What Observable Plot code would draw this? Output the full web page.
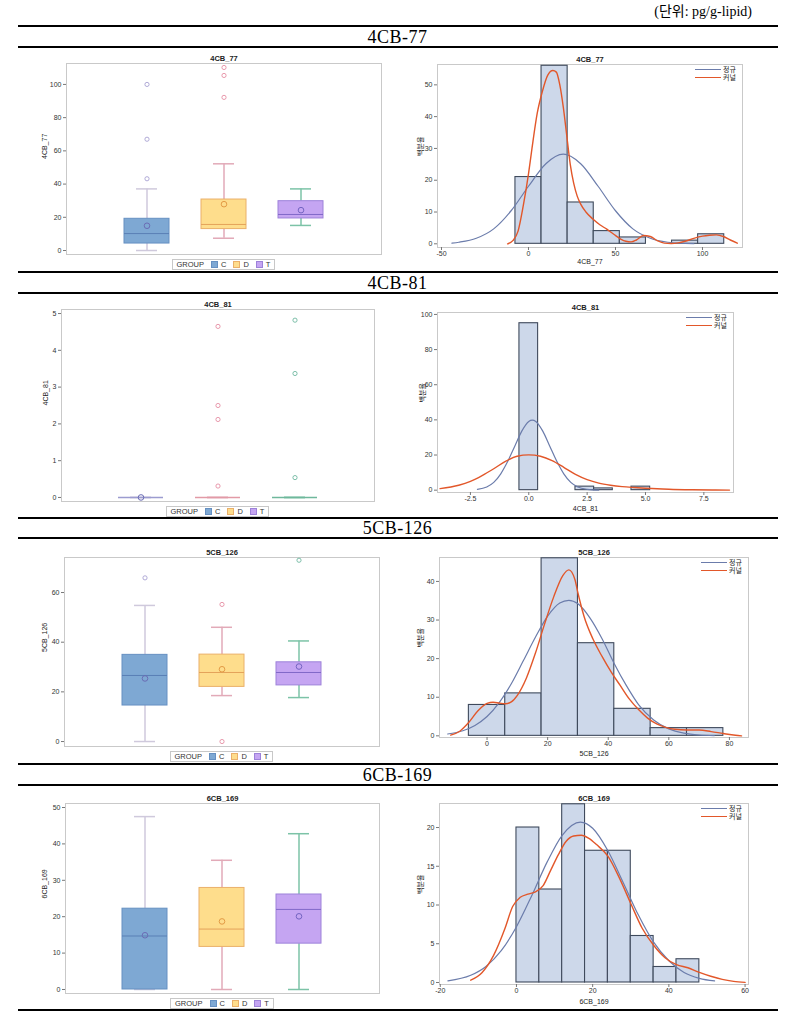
<!DOCTYPE html>
<html><head><meta charset="utf-8">
<script src="https://cdn.jsdelivr.net/npm/d3@7"></script>
<script src="https://cdn.jsdelivr.net/npm/@observablehq/plot@0.6"></script>
<style>
body{margin:0;background:#fff;}
#page{position:relative;width:795px;height:1029px;overflow:hidden;font-family:"Liberation Sans",Arial,"Noto Sans CJK KR",sans-serif;}
.hr{position:absolute;left:18px;width:760px;height:1.5px;background:#000;}
.sec{position:absolute;left:0;width:795px;text-align:center;font-family:"Liberation Serif","Noto Sans CJK KR",serif;font-size:18px;line-height:18px;letter-spacing:0.5px;color:#000;}
.abs{position:absolute;}
.lline{position:absolute;width:26px;height:0;}
.ltext{position:absolute;font-size:7px;line-height:8px;height:8px;color:#222;font-family:"Noto Sans CJK KR",sans-serif;white-space:nowrap;}
.bleg{position:absolute;border:1px solid #c8c8c8;font-size:7.5px;line-height:8px;color:#333;padding:0 4px;height:9px;display:flex;align-items:center;white-space:nowrap;}
.bleg .sw{display:inline-block;width:5px;height:5px;margin:0 3px 0 7px;}
</style></head><body><div id="page"></div>
<script>
// ---------- data ----------
const groups = ["C", "D", "T"];
// box stats: [group, whiskerLow, q1, median, q3, whiskerHigh, mean]
const box77 = [["C",0,4.2,10.2,19.1,37.1,14.9],["D",7.4,12.9,15.7,30.7,52.2,27.9],["T",15.1,19.3,21.7,29.7,37.1,24.3]];
const out77 = [["C",43.2],["C",67],["C",100],["D",92.2],["D",105.4],["D",110.2]];
const box81 = [["C",0,0,0,0,0,0],["D",0,0,0,0,0,null],["T",0,0,0,0,0,null]];
const out81 = [["D",0.31],["D",2.12],["D",2.5],["D",4.65],["T",0.54],["T",3.37],["T",4.82]];
const box126 = [["C",0,14.5,26.6,34.9,54.8,25.4],["D",18.5,22.0,27.8,35.0,46.0,29.1],["T",17.7,22.6,27.8,31.9,40.5,30.2]];
const out126 = [["C",65.9],["D",55.2],["D",0],["T",73.0]];
const box169 = [["C",0,0,14.7,22.2,47.5,14.9],["D",0,11.7,16.6,27.9,35.5,18.7],["T",0,12.6,22.0,26.1,42.8,20.1]];
const out169 = [];

// histograms: bin midpoints and percents
const h77Mid = [0,15,30,45,60,75,90,105];
const h77Pct = [21,56,13,4,2,0,1,3];
const h81Mid = [0,0.8,1.6,2.4,3.2,4.0,4.8];
const h81Pct = [95,0,0,2,1,0,2];
const h126Mid = [0,12,24,36,48,60,72];
const h126Pct = [8,11,46,24,7,2,2];
const h169Mid = [3,9,15,21,27,33,39,45];
const h169Pct = [20,12,23,17,17,6,2,3];

// normal (정규) and kernel (커널) curves
const n77X = [-44,-40,-30,-20,-10,0,10,20,30,40,50,60,70,80,90,95];
const n77Y = [0.2,0.5,1.75,4.7,10.4,18.1,25.2,28.2,25.2,18.1,10.4,4.7,1.75,0.5,0.12,0.05];
const k77X = [-12,-9,-6,-3,0,2,5,8,11,14,16,18,20,22,24,26,28,30,33,37,41,45,49,53,56,59,62,66,70,74,78,82,86,90,95,100,104,108,112,116,120];
const k77Y = [0,1,4,12,22,30,41,48,53,54.5,54,50,43,34,25,19,15,12.5,10,7.8,6,4.6,3,1.5,0.8,0.6,1.2,2.6,2.3,1.0,0.2,0.1,0.3,0.8,1.7,2.4,2.7,2.8,2.3,1.2,0.2];
const n81X = [-2.2,-1.8,-1.5,-1.2,-0.9,-0.6,-0.3,0,0.15,0.3,0.6,0.9,1.2,1.5,1.8,2.1,2.5,3.0];
const n81Y = [0.5,1.8,4.4,9.3,16.4,25,33.6,39.1,39.8,39.1,33.6,25,16.4,9.3,4.4,1.8,0.5,0.05];
const k81X = [-3.8,-3.0,-2.5,-2.0,-1.5,-1.0,-0.5,0,0.5,1.0,1.5,2.0,2.5,3.0,3.5,4.0,4.5,5.0,5.5,6.0,7.0,8.0,8.6];
const k81Y = [0.9,2.8,5,8.3,12.2,16.4,19.3,20.1,19.3,16.8,13.0,9.0,6.0,4.0,2.8,2.0,1.5,1.1,0.8,0.5,0.2,0.1,0.05];
const n126X = [-13,-8,-4,0,4,8,12,16,20,24,27,30,34,38,42,46,50,55,60,65,70,75];
const n126Y = [0.48,1.33,2.7,5.0,8.6,13.5,19.5,25.6,31.0,34.4,35.1,34.2,30.5,25.1,18.7,13.0,8.1,4.1,1.8,0.7,0.22,0.06];
const k126X = [-12,-9,-6,-3,0,2,4,6,8,10,13,16,19,22,25,27,29,30,32,35,38,41,44,47,50,53,56,59,62,66,70,74,78,82,84];
const k126Y = [0.2,1.2,3.5,6.5,8.4,8.7,8.5,8.3,8.8,10.5,15,21.5,29,36,41.5,43,40.5,37,31,25,20.5,16.5,13,9.5,6.8,4.6,3.1,2.2,1.7,1.5,1.5,1.1,0.6,0.15,0];
const n169X = [-18,-12,-8,-4,0,4,8,12,16.8,20,24,28,32,36,40,44,48,52];
const n169Y = [0.22,0.93,2.07,4.1,7.2,11.2,15.5,19.0,20.7,19.9,17.0,12.9,8.7,5.2,2.8,1.3,0.54,0.2];
const k169X = [-12,-9,-6,-3,-1,1,3,5,7,9,11,13,15,17,19,21,24,27,30,33,36,39,42,45,48,51,54,57,60];
const k169Y = [0.3,1.3,3.5,7,9.8,11,11.4,11.7,12.5,14.5,16.5,18.2,18.9,19.0,18.6,17.8,16.3,13.5,10.2,7,4.8,3.2,2.3,1.9,1.3,0.8,0.4,0.15,0.02];

const sections = ["4CB-77","4CB-81","5CB-126","6CB-169"];
const unitText = "(단위: pg/g-lipid)";
const legendNames = ["정규","커널"];
const yHistLabel = "백분율";

// ---------- styles ----------
const boxCol = [
  {fill:"#7ea8d3", stroke:"#6690c2", med:"#5a7fb5", mean:"#6b6db5", whisk:"#cfc9dc", out:"#a8a2d2", flat:"#9c9cd0"},
  {fill:"#fedd8c", stroke:"#eab06a", med:"#e4a25a", mean:"#e39b45", whisk:"#e2aab8", out:"#e58ea4", flat:"#e29aa6"},
  {fill:"#c5a5f2", stroke:"#9d82d9", med:"#8068c8", mean:"#7464c2", whisk:"#7cc3a7", out:"#6fb8a0", flat:"#6fb89c"}
];
const normCol = "#6b7cab", kernCol = "#e2572a";
const FONT = '"Liberation Sans",Arial,"Noto Sans CJK KR",sans-serif';

const page = document.getElementById("page");
function mount(node, left, top, w) {
  const d = document.createElement("div");
  d.className = "abs"; d.style.left = left + "px"; d.style.top = top + "px"; d.style.width = w + "px";
  d.appendChild(node); page.appendChild(d);
}
function addEl(cls, css, text) {
  const e = document.createElement("div");
  e.className = cls; e.style.cssText = css;
  if (text != null) e.textContent = text;
  page.appendChild(e); return e;
}

function boxPanel(p) {
  const [L, R, T, B] = p.frame;
  const sx = 18, ex = 392, mt = 16, mb = 24;
  const data = p.rows.map(r => ({g:r[0], low:r[1], q1:r[2], med:r[3], q3:r[4], high:r[5], mean:r[6]}));
  const outs = p.out.map(o => ({g:o[0], v:o[1]}));
  const marks = [
    Plot.frame({stroke:"#c9c9c9"}),
    Plot.axisY({ticks:p.yTicks, tickSize:3, tickPadding:2, tickFormat:d => String(d), label:null, fontSize:7, stroke:"#777", fill:"#333"})
  ];
  groups.forEach((g, i) => {
    const c = boxCol[i];
    const dg = data.filter(d => d.g === g);
    const flat = dg.length && dg[0].q1 === dg[0].q3;
    marks.push(
      Plot.ruleX(dg, {x:"g", y1:"low", y2:"q1", stroke:c.whisk, strokeWidth:1.5}),
      Plot.ruleX(dg, {x:"g", y1:"q3", y2:"high", stroke:c.whisk, strokeWidth:1.5}),
      Plot.tickY(dg, {x:"g", y:"low", stroke:c.whisk, strokeWidth:1.5, insetLeft:12, insetRight:12}),
      Plot.tickY(dg, {x:"g", y:"high", stroke:c.whisk, strokeWidth:1.5, insetLeft:12, insetRight:12}),
      Plot.barY(dg, {x:"g", y1:"q1", y2:"q3", fill:c.fill, stroke:flat ? c.flat : c.stroke, strokeWidth:flat ? 1.5 : 1}),
      Plot.tickY(dg, {x:"g", y:"med", stroke:flat ? c.flat : c.med, strokeWidth:flat ? 1.5 : 1}),
      Plot.dot(dg.filter(d => d.mean != null), {x:"g", y:"mean", r:2.8, stroke:c.mean, strokeWidth:1}),
      Plot.dot(outs.filter(d => d.g === g), {x:"g", y:"v", r:2.1, stroke:c.out, strokeWidth:0.9})
    );
  });
  marks.push(
    Plot.text([p.name], {frameAnchor:"top", dy:-8, fontSize:7.5, fontWeight:"bold", fill:"#222", text:d => d}),
    Plot.text([p.name], {frameAnchor:"left", dx:p.ldx, rotate:-90, fontSize:7, fill:"#222", text:d => d})
  );
  const svg = Plot.plot({
    width: ex - sx, height: (B - T) + mt + mb,
    marginLeft: L - sx, marginRight: ex - R, marginTop: mt, marginBottom: mb,
    style: {background:"transparent", fontFamily:FONT, overflow:"visible"},
    x: {type:"band", domain:groups, paddingInner:0.41, paddingOuter:0.725, axis:null},
    y: {domain:p.yDomain, axis:null},
    marks
  });
  mount(svg, sx, T - mt, ex - sx);
  // group legend
  const lg = document.createElement("div");
  lg.className = "bleg";
  lg.innerHTML = '<span>GROUP</span>' + groups.map((g, i) =>
    `<span class="sw" style="background:${boxCol[i].fill};border:1px solid ${boxCol[i].stroke}"></span><span>${g}</span>`).join("");
  page.appendChild(lg);
  const w = lg.offsetWidth;
  lg.style.left = ((L + R) / 2 - w / 2) + "px";
  lg.style.top = (B + 5) + "px";
}

function histPanel(p) {
  const [L, R, T, B] = p.frame;
  const sx = 398, ex = 772, mt = 16, mb = 26;
  const bins = p.mids.map((m, i) => ({x1:m - p.w / 2, x2:m + p.w / 2, y:p.pct[i]}));
  const norm = p.nx.map((x, i) => ({x, y:p.ny[i]}));
  const kern = p.kx.map((x, i) => ({x, y:p.ky[i]}));
  const svg = Plot.plot({
    width: ex - sx, height: (B - T) + mt + mb,
    marginLeft: L - sx, marginRight: ex - R, marginTop: mt, marginBottom: mb,
    style: {background:"transparent", fontFamily:FONT, overflow:"visible"},
    x: {domain:p.xDomain, axis:null},
    y: {domain:p.yDomain, axis:null},
    marks: [
      Plot.frame({stroke:"#c9c9c9"}),
      Plot.axisY({ticks:p.yTicks, tickSize:3, tickPadding:2, tickFormat:d => String(d), label:null, fontSize:7, stroke:"#777", fill:"#333"}),
      Plot.axisX({ticks:p.xTicks, tickSize:3, tickPadding:1, tickFormat:p.fmt, label:null, fontSize:7, stroke:"#777", fill:"#333"}),
      Plot.rectY(bins, {x1:"x1", x2:"x2", y:"y", fill:"#cdd8ea", stroke:"#3f4a5c", strokeWidth:1.1}),
      Plot.line(norm, {x:"x", y:"y", stroke:normCol, strokeWidth:1.2, curve:"monotone-x"}),
      Plot.line(kern, {x:"x", y:"y", stroke:kernCol, strokeWidth:1.4, curve:"monotone-x"}),
      Plot.text([p.name], {frameAnchor:"top", dy:-8, fontSize:7.5, fontWeight:"bold", fill:"#222", text:d => d}),
      Plot.text([yHistLabel], {frameAnchor:"left", dx:p.ldx, rotate:-90, fontSize:7, fill:"#222", text:d => d, fontFamily:'"Noto Sans CJK KR",sans-serif'}),
      Plot.text([p.name], {frameAnchor:"bottom", dy:p.xdy, fontSize:7, fill:"#222", text:d => d})
    ]
  });
  mount(svg, sx, T - mt, ex - sx);
  // legend: two entries, stacked
  const lx = R - 47, ly = T + 5;
  addEl("lline", `left:${lx}px;top:${ly}px;border-top:1.3px solid ${normCol};`);
  addEl("ltext", `left:${lx + 28}px;top:${ly - 4}px;`, legendNames[0]);
  addEl("lline", `left:${lx}px;top:${ly + 8}px;border-top:1.5px solid ${kernCol};`);
  addEl("ltext", `left:${lx + 28}px;top:${ly + 4}px;`, legendNames[1]);
}

// ---------- layout ----------
const boxPanels = [
  {name:"4CB_77", rows:box77, out:out77, yDomain:[-2.4,112.6], yTicks:[0,20,40,60,80,100], frame:[66,381,63,254], ldx:-22},
  {name:"4CB_81", rows:box81, out:out81, yDomain:[-0.11,5.11], yTicks:[0,1,2,3,4,5], frame:[61,374,309,501], ldx:-16},
  {name:"5CB_126", rows:box126, out:out126, yDomain:[-2.0,74.1], yTicks:[0,20,40,60], frame:[64,379,557,746], ldx:-20},
  {name:"6CB_169", rows:box169, out:out169, yDomain:[-1.1,51.1], yTicks:[0,10,20,30,40,50], frame:[65,379,803,993], ldx:-21}
];
const intFmt = d => String(d);
const histPanels = [
  {name:"4CB_77", mids:h77Mid, pct:h77Pct, w:15, nx:n77X, ny:n77Y, kx:k77X, ky:k77Y, xDomain:[-52.3,123], yDomain:[-1.16,56.4], xTicks:[-50,0,50,100], yTicks:[0,10,20,30,40,50], fmt:intFmt, frame:[437,742,64,247], ldx:-17, xdy:16},
  {name:"4CB_81", mids:h81Mid, pct:h81Pct, w:0.8, nx:n81X, ny:n81Y, kx:k81X, ky:k81Y, xDomain:[-3.91,8.77], yDomain:[-1.33,101.1], xTicks:[-2.5,0,2.5,5,7.5], yTicks:[0,20,40,60,80,100], fmt:d => d.toFixed(1), frame:[437,733,312,492], ldx:-15, xdy:18},
  {name:"5CB_126", mids:h126Mid, pct:h126Pct, w:12, nx:n126X, ny:n126Y, kx:k126X, ky:k126Y, xDomain:[-15.7,86.3], yDomain:[-0.43,46.2], xTicks:[0,20,40,60,80], yTicks:[0,10,20,30,40], fmt:intFmt, frame:[439,748,557,737], ldx:-19, xdy:18},
  {name:"6CB_169", mids:h169Mid, pct:h169Pct, w:6, nx:n169X, ny:n169Y, kx:k169X, ky:k169Y, xDomain:[-20.2,60.9], yDomain:[-0.26,23.1], xTicks:[-20,0,20,40,60], yTicks:[0,5,10,15,20], fmt:intFmt, frame:[439,748,803,984], ldx:-19, xdy:19}
];

boxPanels.forEach(boxPanel);
histPanels.forEach(histPanel);

// table rules and section headings
addEl("abs", 'right:43px;top:4px;font-family:"Liberation Serif","Noto Sans CJK KR",serif;font-size:14px;line-height:16px;', unitText);
[26,47,272,293,518,538,764,785,1010].forEach(y => addEl("hr", `top:${y - 0.75}px;`));
[36.5,282.5,528,774.5].forEach((c, i) => addEl("sec", `top:${c - 9}px;`, sections[i]));
</script></body></html>
